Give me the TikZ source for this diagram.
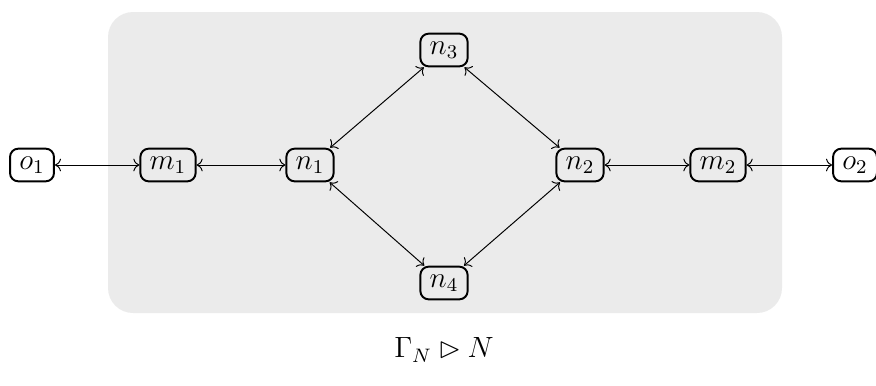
\documentclass[tikz,border=0pt]{standalone}
\usepackage{amsmath,amssymb}
\usepackage{tikz}
\usetikzlibrary{arrows.meta,positioning}
\definecolor{regiongray}{RGB}{235,235,235}
\tikzset{
    netnode/.style={draw=black,line width=0.8pt,rounded corners=3.4pt,inner xsep=3.8pt,inner ysep=1.5pt,minimum height=13.4pt},
    linkarrow/.style={<->,line width=0.4pt,draw=black},
    region/.style={fill=regiongray,draw=none,rounded corners=0.36cm},
    every node/.style={font=\fontsize{12}{14}\selectfont}
}

\begin{document}
\begin{tikzpicture}[x=0.0144cm,y=-0.0144cm]
    \useasboundingbox (0,0) rectangle (876,385);

    % shaded part of the network
    \fill[region] (108,12) rectangle (782,313);

    % nodes
    \node[netnode] (o1) at (32,165) {$o_1$};
    \node[netnode] (m1) at (168,165) {$m_1$};
    \node[netnode] (n1) at (310,165) {$n_1$};
    \node[netnode] (n3) at (444,50) {$n_3$};
    \node[netnode] (n4) at (444,283) {$n_4$};
    \node[netnode] (n2) at (580,165) {$n_2$};
    \node[netnode] (m2) at (718,165) {$m_2$};
    \node[netnode] (o2) at (855,165) {$o_2$};

    % links
    \draw[linkarrow] (o1) -- (m1);
    \draw[linkarrow] (m1) -- (n1);
    \draw[linkarrow] (n1) -- (n3);
    \draw[linkarrow] (n1) -- (n4);
    \draw[linkarrow] (n3) -- (n2);
    \draw[linkarrow] (n4) -- (n2);
    \draw[linkarrow] (n2) -- (m2);
    \draw[linkarrow] (m2) -- (o2);

    % caption
    \node (caption) at (444,350) {$\Gamma_N \rhd N$};
\end{tikzpicture}
\end{document}
